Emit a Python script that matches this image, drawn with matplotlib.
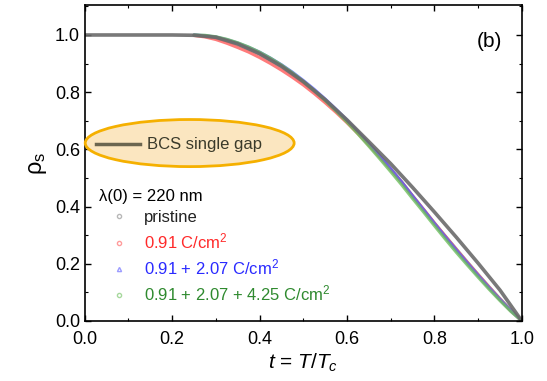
import matplotlib
matplotlib.use("Agg")
import matplotlib.pyplot as plt
from matplotlib.patches import Ellipse
from matplotlib.lines import Line2D
from matplotlib.ticker import MultipleLocator

plt.rcParams['font.family'] = ['Liberation Sans', 'DejaVu Sans']
plt.rcParams['mathtext.fontset'] = 'custom'
plt.rcParams['mathtext.rm'] = 'Liberation Sans'
plt.rcParams['mathtext.it'] = 'Liberation Sans:italic'

# reduced temperature for the measured curves
t_data = [0.250, 0.275, 0.300, 0.325, 0.350, 0.375, 0.400, 0.425, 0.450, 0.475,
          0.500, 0.525, 0.550, 0.575, 0.600, 0.625, 0.650, 0.675, 0.700, 0.725,
          0.750, 0.775, 0.800, 0.825, 0.850, 0.875, 0.900, 0.925, 0.950, 0.975, 1.000]

rho_pristine = [1.000, 0.997, 0.990, 0.979, 0.966, 0.950, 0.932, 0.911, 0.888, 0.862,
                0.834, 0.803, 0.770, 0.735, 0.698, 0.659, 0.618, 0.576, 0.532, 0.487,
                0.438, 0.391, 0.343, 0.297, 0.252, 0.207, 0.163, 0.120, 0.078, 0.038, 0.000]
rho_091 = [0.998, 0.993, 0.984, 0.971, 0.956, 0.940, 0.921, 0.900, 0.877, 0.852,
           0.825, 0.795, 0.763, 0.729, 0.693, 0.655, 0.615, 0.573, 0.530, 0.485,
           0.437, 0.390, 0.342, 0.296, 0.250, 0.205, 0.161, 0.118, 0.076, 0.036, 0.000]
rho_207 = [1.000, 0.998, 0.993, 0.984, 0.972, 0.957, 0.940, 0.919, 0.896, 0.870,
           0.841, 0.810, 0.776, 0.740, 0.702, 0.662, 0.620, 0.577, 0.532, 0.486,
           0.437, 0.389, 0.341, 0.294, 0.248, 0.203, 0.159, 0.116, 0.075, 0.036, 0.000]
rho_425 = [1.000, 0.999, 0.994, 0.985, 0.973, 0.958, 0.940, 0.919, 0.895, 0.868,
           0.838, 0.806, 0.771, 0.734, 0.695, 0.654, 0.611, 0.567, 0.522, 0.476,
           0.428, 0.381, 0.333, 0.286, 0.240, 0.196, 0.153, 0.111, 0.071, 0.033, 0.000]

# BCS single gap fit
t_fit = [0.00, 0.05, 0.10, 0.15, 0.20, 0.25, 0.30, 0.35, 0.40, 0.45, 0.50,
         0.55, 0.60, 0.65, 0.70, 0.75, 0.80, 0.85, 0.90, 0.95, 1.00]
rho_fit = [1.000, 1.000, 1.000, 1.000, 1.000, 0.999, 0.992, 0.969, 0.935, 0.891, 0.837,
           0.774, 0.703, 0.627, 0.550, 0.467, 0.381, 0.293, 0.202, 0.108, 0.000]

labels = ["pristine", "0.91 C/cm$^2$", "0.91 + 2.07 C/cm$^2$", "0.91 + 2.07 + 4.25 C/cm$^2$"]
text_colors = ["#222222", "#ff2a2a", "#2a2aff", "#2f8a2f"]
line_colors = ["#8a8a8a", "#ff5a5a", "#5a5aff", "#6cbf5c"]
markers = ["o", "o", "^", "o"]

fig = plt.figure(figsize=(5.47, 3.81), dpi=100)
ax = fig.add_axes([0.155, 0.1575, 0.799, 0.8295])

# measured curves
for rho, c in zip([rho_pristine, rho_091, rho_207, rho_425], line_colors):
    ax.plot(t_data, rho, color=c, lw=2.2, alpha=0.8, solid_capstyle="round")

# fit line
ax.plot(t_fit, rho_fit, color="#6a6a6a", lw=2.6, alpha=0.9)

ax.set_xlim(0, 1.0)
ax.set_ylim(0, 1.105)
ax.xaxis.set_major_locator(MultipleLocator(0.2))
ax.xaxis.set_minor_locator(MultipleLocator(0.1))
ax.yaxis.set_major_locator(MultipleLocator(0.2))
ax.yaxis.set_minor_locator(MultipleLocator(0.1))
ax.tick_params(which="both", direction="in", top=True, right=True, labelsize=13)
ax.tick_params(which="major", length=4, width=1)
ax.tick_params(which="minor", length=2, width=0.8)
ax.tick_params(axis="x", pad=7)
ax.set_xticklabels([f"{v:.1f}" for v in ax.get_xticks()])
ax.set_yticklabels([f"{v:.1f}" for v in ax.get_yticks()])
for s in ax.spines.values():
    s.set_linewidth(1.2)

ax.set_xlabel("$t$ = $T$/$T_c$", fontsize=15, labelpad=3)
ax.set_ylabel("ρ$_{\\rm s}$", fontsize=17, labelpad=4)

ax.text(0.925, 0.883, "(b)", transform=ax.transAxes, fontsize=15, ha="center", va="center")

# BCS annotation
ell = Ellipse((0.24, 0.563), width=0.478, height=0.149, transform=ax.transAxes,
              facecolor="#fbe6c0", edgecolor="#f5b000", lw=2, clip_on=False, zorder=5)
ax.add_patch(ell)
ax.plot([0.025, 0.126], [0.56, 0.56], transform=ax.transAxes, color="#6b6650",
        lw=2.5, zorder=6, clip_on=False)
ax.text(0.142, 0.56, "BCS single gap", transform=ax.transAxes, fontsize=12,
        color="#3a3a2a", va="center", zorder=6)

# legend
handles = [Line2D([], [], ls="none", marker=m, ms=3, mfc="none", mec=c, alpha=0.6)
           for m, c in zip(markers, line_colors)]
leg = ax.legend(handles, labels, loc="upper left", bbox_to_anchor=(0.005, 0.455),
                frameon=False, fontsize=12, handlelength=2.5, handletextpad=0.2,
                labelspacing=0.38, title="λ(0) = 220 nm", title_fontsize=12,
                labelcolor=text_colors, borderpad=0.2)
leg._legend_box.align = "left"

fig.savefig("out.png", dpi=100)
